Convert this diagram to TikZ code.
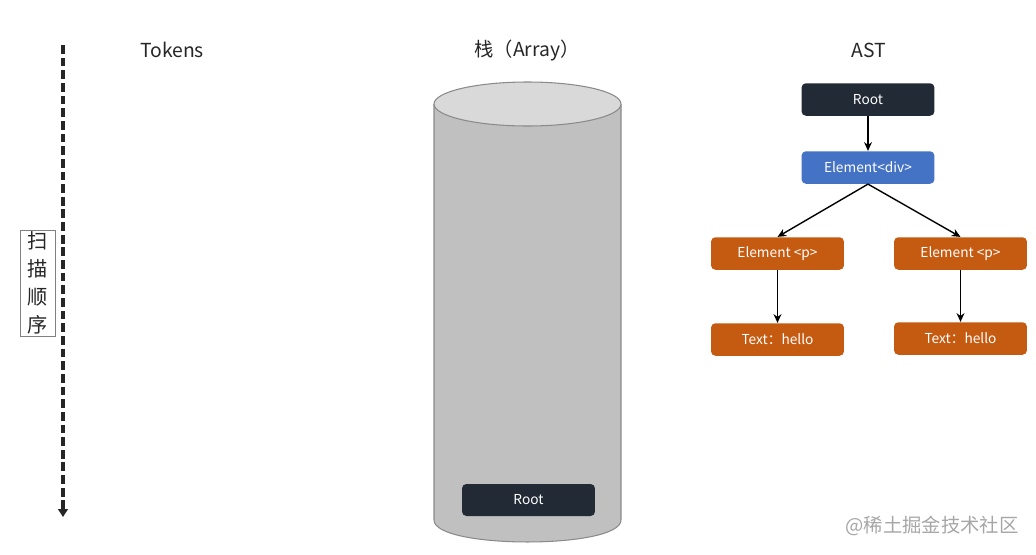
\documentclass[tikz,border=0pt]{standalone}
\usepackage{fontspec}
\setmainfont{Noto Sans CJK SC}
\usepackage{xcolor}
\usetikzlibrary{arrows.meta}
\definecolor{rootdark}{HTML}{222A35}
\definecolor{divblue}{HTML}{4472C4}
\definecolor{porange}{HTML}{C55A11}
\definecolor{cylbody}{HTML}{C0C0C0}
\definecolor{cyltop}{HTML}{D9D9D9}
\definecolor{cylline}{HTML}{8A8A8A}

\begin{document}
\begin{tikzpicture}[x=0.02cm, y=-0.02cm,
    titulo/.style={font=\fontsize{11}{13}\selectfont, text=black!85},
    caja/.style={rounded corners=2.5pt, minimum width=2.66cm, minimum height=0.65cm,
                 inner sep=0pt, text=white, font=\fontsize{7.8}{9}\selectfont},
    flecha/.style={-{Stealth[length=5pt, width=4.5pt]}, line width=0.8pt}]
    \useasboundingbox (0,0) rectangle (1036,555);

    % orden de escaneo
    \coordinate (scanini) at (63,45);
    \coordinate (scanfin) at (63,517);
    \draw[dash pattern=on 5pt off 2.2pt, line width=2pt, black!85,
          -{Triangle[length=4.5pt, width=5.5pt]}] (scanini) -- (scanfin);
    \node[draw=gray, line width=0.5pt, minimum width=0.70cm, minimum height=2.12cm,
          inner sep=0pt, align=center, font=\fontsize{11.5}{16}\selectfont, text=black!85]
        (orden) at (37.5,283) {扫\\描\\顺\\序};

    % titulos
    \node[titulo] (tokens) at (172,50) {Tokens};
    \node[titulo] (pila)   at (527,50) {栈（Array）};
    \node[titulo] (ast)    at (869,50) {AST};

    % cilindro
    \fill[cylbody] (434,104) -- (434,520) .. controls (434,549.3) and (621,549.3) .. (621,520) -- (621,104) -- cycle;
    \draw[cylline, line width=0.6pt] (434,104) -- (434,520) .. controls (434,549.3) and (621,549.3) .. (621,520) -- (621,104);
    \draw[cylline, line width=0.6pt, fill=cyltop] (527.5,104) ellipse [x radius=93.5, y radius=22];
    \node[caja, fill=rootdark, minimum height=0.64cm] (pilaroot) at (528.5,500) {Root};

    % arbol
    \node[caja, fill=rootdark] (root) at (868,99.5)  {Root};
    \node[caja, fill=divblue]  (div)  at (868,167.5) {Element<div>};
    \node[caja, fill=porange]  (pa)   at (777.5,253.5) {Element <p>};
    \node[caja, fill=porange]  (pb)   at (960.5,253.5) {Element <p>};
    \node[caja, fill=porange]  (ta)   at (777.5,339.5) {Text：hello};
    \node[caja, fill=porange]  (tb)   at (960.5,338.5) {Text：hello};

    \draw[flecha] (root) -- (div);
    \draw[flecha] (div.south) -- (pa.north);
    \draw[flecha] (div.south) -- (pb.north);
    \draw[flecha] (pa) -- (ta);
    \draw[flecha] (pb) -- (tb);

    % marca de agua
    \node[font=\fontsize{11}{13}\selectfont, text=black!35] (marca) at (932,526) {@稀土掘金技术社区};
\end{tikzpicture}
\end{document}
